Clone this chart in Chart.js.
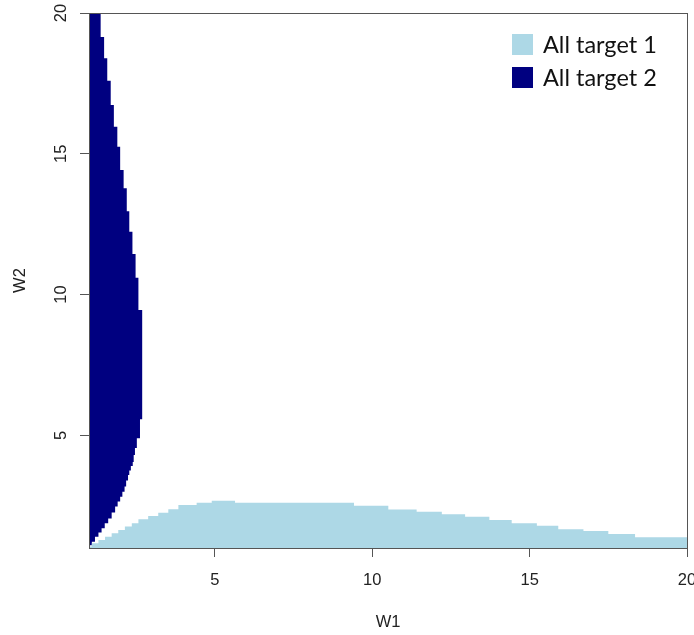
<!DOCTYPE html>
<html>
<head>
<meta charset="utf-8">
<script src="https://cdn.jsdelivr.net/npm/chart.js@4/dist/chart.umd.min.js"></script>
<style>
  html, body { margin: 0; padding: 0; background: #fff; overflow: hidden; }
  #wrap { position: relative; width: 694px; height: 635px; }
</style>
</head>
<body>
<div id="wrap"><canvas id="chart"></canvas></div>
<script>
// Series names
var seriesNames = ['All target 1', 'All target 2'];

// All target 1: upper edge of the light blue region (each W2 holds from its W1 to the next)
var t1W1 = [1.00, 1.09, 1.30, 1.51, 1.72, 1.93, 2.14, 2.36, 2.57, 2.88, 3.20, 3.52,
            3.84, 4.42, 4.90, 5.64, 9.42, 10.51, 11.41, 12.21, 12.95, 13.72, 14.43,
            15.23, 15.91, 16.71, 17.50, 18.35, 19.14, 20.00];
var t1W2 = [1.00, 1.05, 1.17, 1.28, 1.40, 1.52, 1.64, 1.76, 1.88, 2.02, 2.14, 2.25,
            2.38, 2.53, 2.61, 2.68, 2.61, 2.50, 2.37, 2.29, 2.20, 2.11, 1.99,
            1.88, 1.79, 1.67, 1.60, 1.50, 1.38, 1.38];

// All target 2: bands along W2 (top of each band) and how far each reaches in W1
var t2Top = [20.00, 19.15, 18.39, 17.59, 16.73, 15.96, 15.25, 14.42, 13.78, 12.96,
             12.23, 11.44, 10.60, 9.45, 5.57, 4.90, 4.55, 4.30, 4.05, 3.91, 3.75,
             3.59, 3.40, 3.18, 3.00, 2.82, 2.65, 2.47, 2.26, 2.05, 1.88, 1.70,
             1.55, 1.40, 1.22];
var t2Right = [1.37, 1.48, 1.58, 1.69, 1.79, 1.90, 1.99, 2.10, 2.20, 2.28,
               2.38, 2.48, 2.57, 2.69, 2.62, 2.52, 2.46, 2.42, 2.39, 2.33, 2.28,
               2.24, 2.18, 2.13, 2.06, 1.99, 1.91, 1.83, 1.72, 1.61, 1.50, 1.40,
               1.30, 1.19, 1.09];
var t2Bottom = 1.10;

// Axis ticks
var w1Ticks = [5, 10, 15, 20];
var w2Ticks = [5, 10, 15, 20];
var w1Range = [1, 20];
var w2Range = [1, 20];

// build the point lists
var t1Points = t1W1.map(function (x, i) { return { x: x, y: t1W2[i] }; });

// outline of target 2: down the stepped edge, back up along W1 = min
var t2Points = [{ x: w1Range[0], y: t2Top[0] }];
for (var i = 0; i < t2Top.length; i++) {
  var bottom = (i + 1 < t2Top.length) ? t2Top[i + 1] : t2Bottom;
  t2Points.push({ x: t2Right[i], y: t2Top[i] });
  t2Points.push({ x: t2Right[i], y: bottom });
}
t2Points.push({ x: w1Range[0], y: t2Bottom });

var axisFont = { family: '"Liberation Sans", Arial, sans-serif', size: 16.5 };
var axisColor = '#555';
var textColor = '#222';

// box around plot region (R style)
var framePlugin = {
  id: 'frame',
  afterDatasetsDraw: function (chart) {
    var a = chart.chartArea, ctx = chart.ctx;
    ctx.save();
    ctx.strokeStyle = axisColor;
    ctx.lineWidth = 1;
    ctx.strokeRect(Math.round(a.left) + 0.5, Math.round(a.top) + 0.5,
                   Math.round(a.right - a.left), Math.round(a.bottom - a.top));
    ctx.restore();
  }
};

// legend boxes in the top right corner
var legendPlugin = {
  id: 'cornerLegend',
  afterDraw: function (chart) {
    var ctx = chart.ctx;
    ctx.save();
    ctx.font = '23.5px Lato, "Open Sans", sans-serif';
    ctx.textBaseline = 'middle';
    ctx.textAlign = 'left';
    chart.data.datasets.forEach(function (ds, k) {
      var y = 34 + k * 33;
      ctx.fillStyle = ds.backgroundColor;
      ctx.fillRect(512, y, 21, 21);
      ctx.fillStyle = '#111';
      ctx.fillText(ds.label, 543, y + 11);
    });
    ctx.restore();
  }
};

var ctx = document.getElementById('chart').getContext('2d');
var chart = new Chart(ctx, {
  type: 'line',
  data: {
    datasets: [{
      label: seriesNames[0],
      data: t1Points,
      backgroundColor: '#ADD8E6',
      borderColor: '#ADD8E6',
      borderWidth: 0,
      pointRadius: 0,
      stepped: 'after',
      fill: 'start'
    }, {
      label: seriesNames[1],
      data: t2Points,
      backgroundColor: '#000080',
      borderColor: '#000080',
      borderWidth: 0,
      pointRadius: 0,
      fill: 'shape'
    }]
  },
  options: {
    responsive: true,
    maintainAspectRatio: false,
    devicePixelRatio: 1,
    animation: false,
    layout: { padding: { top: 13, right: 7, left: 0, bottom: 0 } },
    plugins: {
      legend: { display: false },
      tooltip: { enabled: false }
    },
    scales: {
      x: {
        type: 'linear',
        min: w1Range[0],
        max: w1Range[1],
        afterBuildTicks: function (s) { s.ticks = w1Ticks.map(function (v) { return { value: v }; }); },
        afterFit: function (s) { s.height = 87; s.paddingLeft = 0; s.paddingRight = 0; },
        grid: { drawOnChartArea: false, drawTicks: true, tickLength: 9, color: axisColor },
        border: { display: true, color: axisColor },
        ticks: { color: textColor, font: axisFont, padding: 14, maxRotation: 0 },
        title: { display: true, text: 'W1', color: textColor, font: axisFont, padding: { top: 0, bottom: 3 } }
      },
      y: {
        type: 'linear',
        min: w2Range[0],
        max: w2Range[1],
        afterBuildTicks: function (s) { s.ticks = w2Ticks.map(function (v) { return { value: v }; }); },
        afterFit: function (s) { s.width = 89; s.paddingTop = 0; s.paddingBottom = 0; },
        grid: { drawOnChartArea: false, drawTicks: true, tickLength: 9, color: axisColor },
        border: { display: true, color: axisColor },
        ticks: { color: textColor, font: axisFont, padding: 9, minRotation: 90, maxRotation: 90, crossAlign: 'center' },
        title: { display: true, text: 'W2', color: textColor, font: axisFont, padding: { top: 11, bottom: 0 } }
      }
    }
  },
  plugins: [framePlugin, legendPlugin]
});
</script>
</body>
</html>
